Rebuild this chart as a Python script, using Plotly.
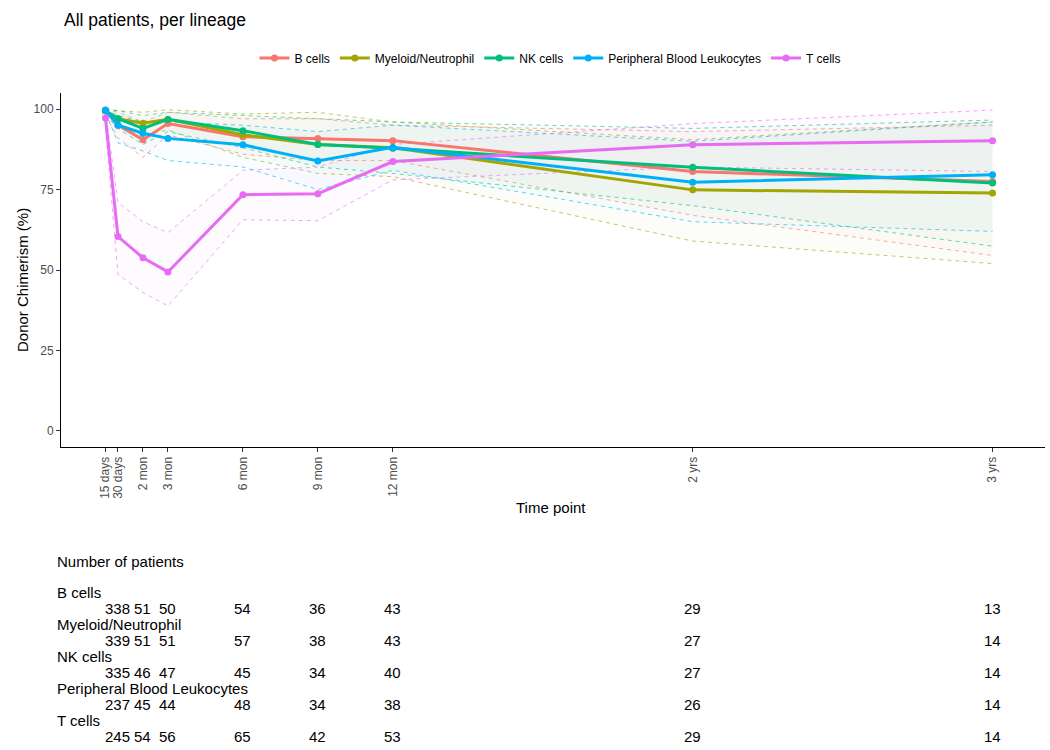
import plotly.graph_objects as go

# ---------------- data ----------------
time_months = [0.5, 1, 2, 3, 6, 9, 12, 24, 36]
time_labels = ["15 days", "30 days", "2 mon", "3 mon", "6 mon", "9 mon", "12 mon", "2 yrs", "3 yrs"]

lineages = ["B cells", "Myeloid/Neutrophil", "NK cells", "Peripheral Blood Leukocytes", "T cells"]
colors = ["#F8766D", "#A3A500", "#00BF7D", "#00B0F6", "#E76BF3"]

b_mean = [99.5, 95.0, 90.5, 95.5, 91.4, 90.9, 90.2, 80.6, 77.5]
b_upper = [100, 99.0, 96.0, 99.0, 97.0, 97.0, 95.0, 93.0, 95.0]
b_lower = [98.0, 91.0, 85.0, 92.0, 86.0, 84.0, 84.0, 67.0, 54.5]

my_mean = [99.5, 97.0, 95.6, 96.8, 92.0, 89.0, 88.0, 74.9, 73.9]
my_upper = [100, 99.5, 99.0, 99.8, 98.5, 99.0, 96.0, 90.5, 96.0]
my_lower = [98.5, 94.0, 92.0, 93.5, 85.0, 80.0, 79.0, 59.0, 52.0]

nk_mean = [99.5, 97.0, 94.0, 96.8, 93.3, 89.0, 87.8, 81.9, 77.0]
nk_upper = [100, 99.5, 98.0, 99.0, 98.0, 97.0, 96.0, 94.0, 96.6]
nk_lower = [98.0, 94.0, 89.0, 93.0, 88.0, 82.0, 80.0, 70.0, 57.4]

pbl_mean = [99.7, 95.0, 92.5, 90.9, 88.9, 83.9, 88.1, 77.3, 79.6]
pbl_upper = [100, 98.0, 96.0, 96.0, 95.0, 93.0, 95.0, 90.0, 96.0]
pbl_lower = [99.0, 89.5, 87.0, 84.0, 82.0, 75.0, 81.0, 65.0, 62.0]

t_mean = [97.2, 60.4, 53.8, 49.4, 73.4, 73.7, 83.7, 88.9, 90.2]
t_upper = [99.5, 71.0, 65.0, 61.6, 81.0, 82.0, 89.0, 95.5, 99.7]
t_lower = [94.0, 48.6, 43.0, 38.8, 65.6, 65.3, 78.0, 82.0, 80.6]

means = [b_mean, my_mean, nk_mean, pbl_mean, t_mean]
uppers = [b_upper, my_upper, nk_upper, pbl_upper, t_upper]
lowers = [b_lower, my_lower, nk_lower, pbl_lower, t_lower]

# number of patients table
table_times = [1, 2, 3, 6, 9, 12, 24, 36]
n_b = [338, 51, 50, 54, 36, 43, 29, 13]
n_my = [339, 51, 51, 57, 38, 43, 27, 14]
n_nk = [335, 46, 47, 45, 34, 40, 27, 14]
n_pbl = [237, 45, 44, 48, 34, 38, 26, 14]
n_t = [245, 54, 56, 65, 42, 53, 29, 14]
counts = [n_b, n_my, n_nk, n_pbl, n_t]

# ---------------- layout constants ----------------
W, H = 1050, 750
ML, MR, MT, MB = 61, 5, 93, 303
PLOT_W = W - ML - MR
PLOT_H = H - MT - MB
FONT = "Liberation Sans, Arial, sans-serif"


def rgba(hex_color, a):
    h = hex_color.lstrip("#")
    r, g, b = int(h[0:2], 16), int(h[2:4], 16), int(h[4:6], 16)
    return f"rgba({r},{g},{b},{a})"


def py_to_paper(py):
    return (H - MB - py) / PLOT_H


def px_to_paper(px):
    return (px - ML) / PLOT_W


fig = go.Figure()

# ribbons (dashed bounds + light fill)
for name, col, lo, up in zip(lineages, colors, lowers, uppers):
    fig.add_trace(go.Scatter(
        x=time_months, y=lo, mode="lines",
        line=dict(color=rgba(col, 0.6), width=1, dash="4px,4px"),
        showlegend=False, hoverinfo="skip"))
    fig.add_trace(go.Scatter(
        x=time_months, y=up, mode="lines",
        line=dict(color=rgba(col, 0.6), width=1, dash="4px,4px"),
        fill="tonexty", fillcolor=rgba(col, 0.028),
        showlegend=False, hoverinfo="skip"))

# mean lines
for name, col, m in zip(lineages, colors, means):
    fig.add_trace(go.Scatter(
        x=time_months, y=m, mode="lines+markers", name=name,
        line=dict(color=col, width=3),
        marker=dict(color=col, size=7)))

annotations = []
# title
annotations.append(dict(text="All patients, per lineage", xref="paper", yref="paper",
                        x=px_to_paper(62), y=py_to_paper(20), xanchor="left", yanchor="middle",
                        showarrow=False, font=dict(size=17.5, color="#000000", family=FONT)))
# axis titles
annotations.append(dict(text="Time point", xref="paper", yref="paper",
                        x=px_to_paper(551), y=py_to_paper(507), xanchor="center", yanchor="middle",
                        showarrow=False, font=dict(size=15, color="#000000", family=FONT)))
annotations.append(dict(text="Donor Chimerism (%)", xref="paper", yref="paper",
                        x=px_to_paper(22), y=py_to_paper(280), xanchor="center", yanchor="middle",
                        textangle=-90,
                        showarrow=False, font=dict(size=15, color="#000000", family=FONT)))

# table
annotations.append(dict(text="Number of patients", xref="paper", yref="paper",
                        x=px_to_paper(55), y=py_to_paper(561), xanchor="left", yanchor="middle",
                        showarrow=False, font=dict(size=15, color="#000000", family=FONT)))
label_py0 = 592
row_step = 32
for i, (name, row) in enumerate(zip(lineages, counts)):
    ly = label_py0 + i * row_step
    annotations.append(dict(text=name, xref="paper", yref="paper",
                            x=px_to_paper(55), y=py_to_paper(ly), xanchor="left", yanchor="middle",
                            showarrow=False, font=dict(size=15, color="#000000", family=FONT)))
    for t, n in zip(table_times, row):
        annotations.append(dict(text=str(n), xref="x", yref="paper",
                                x=t, y=py_to_paper(ly + 16), xanchor="center", yanchor="middle",
                                showarrow=False, font=dict(size=15, color="#000000", family=FONT)))

fig.update_layout(
    width=W, height=H,
    margin=dict(l=ML, r=MR, t=MT, b=MB, autoexpand=False),
    paper_bgcolor="white", plot_bgcolor="white",
    font=dict(family=FONT, size=12, color="#000000"),
    showlegend=True,
    legend=dict(orientation="h", x=px_to_paper(550), xanchor="center", y=py_to_paper(58), yanchor="middle",
                font=dict(size=12, color="#000000", family=FONT), itemwidth=30,
                traceorder="normal", bgcolor="rgba(0,0,0,0)"),
    annotations=annotations,
)

fig.update_xaxes(
    range=[-1.28, 38.1], tickmode="array", tickvals=time_months, ticktext=time_labels,
    tickangle=-90, showline=True, linecolor="#000000", linewidth=1,
    ticks="outside", ticklen=4, tickcolor="#333333",
    tickfont=dict(size=12, color="#4D4D4D", family=FONT),
    showgrid=False, zeroline=False, automargin=False)

fig.update_yaxes(
    range=[-5, 105], tickmode="array", tickvals=[0, 25, 50, 75, 100],
    showline=True, linecolor="#000000", linewidth=1,
    ticks="outside", ticklen=4, tickcolor="#333333",
    tickfont=dict(size=12, color="#4D4D4D", family=FONT),
    showgrid=False, zeroline=False, automargin=False)

fig.write_html("out.html", config={"displayModeBar": False},
               post_script="document.body.style.margin='0px';")
